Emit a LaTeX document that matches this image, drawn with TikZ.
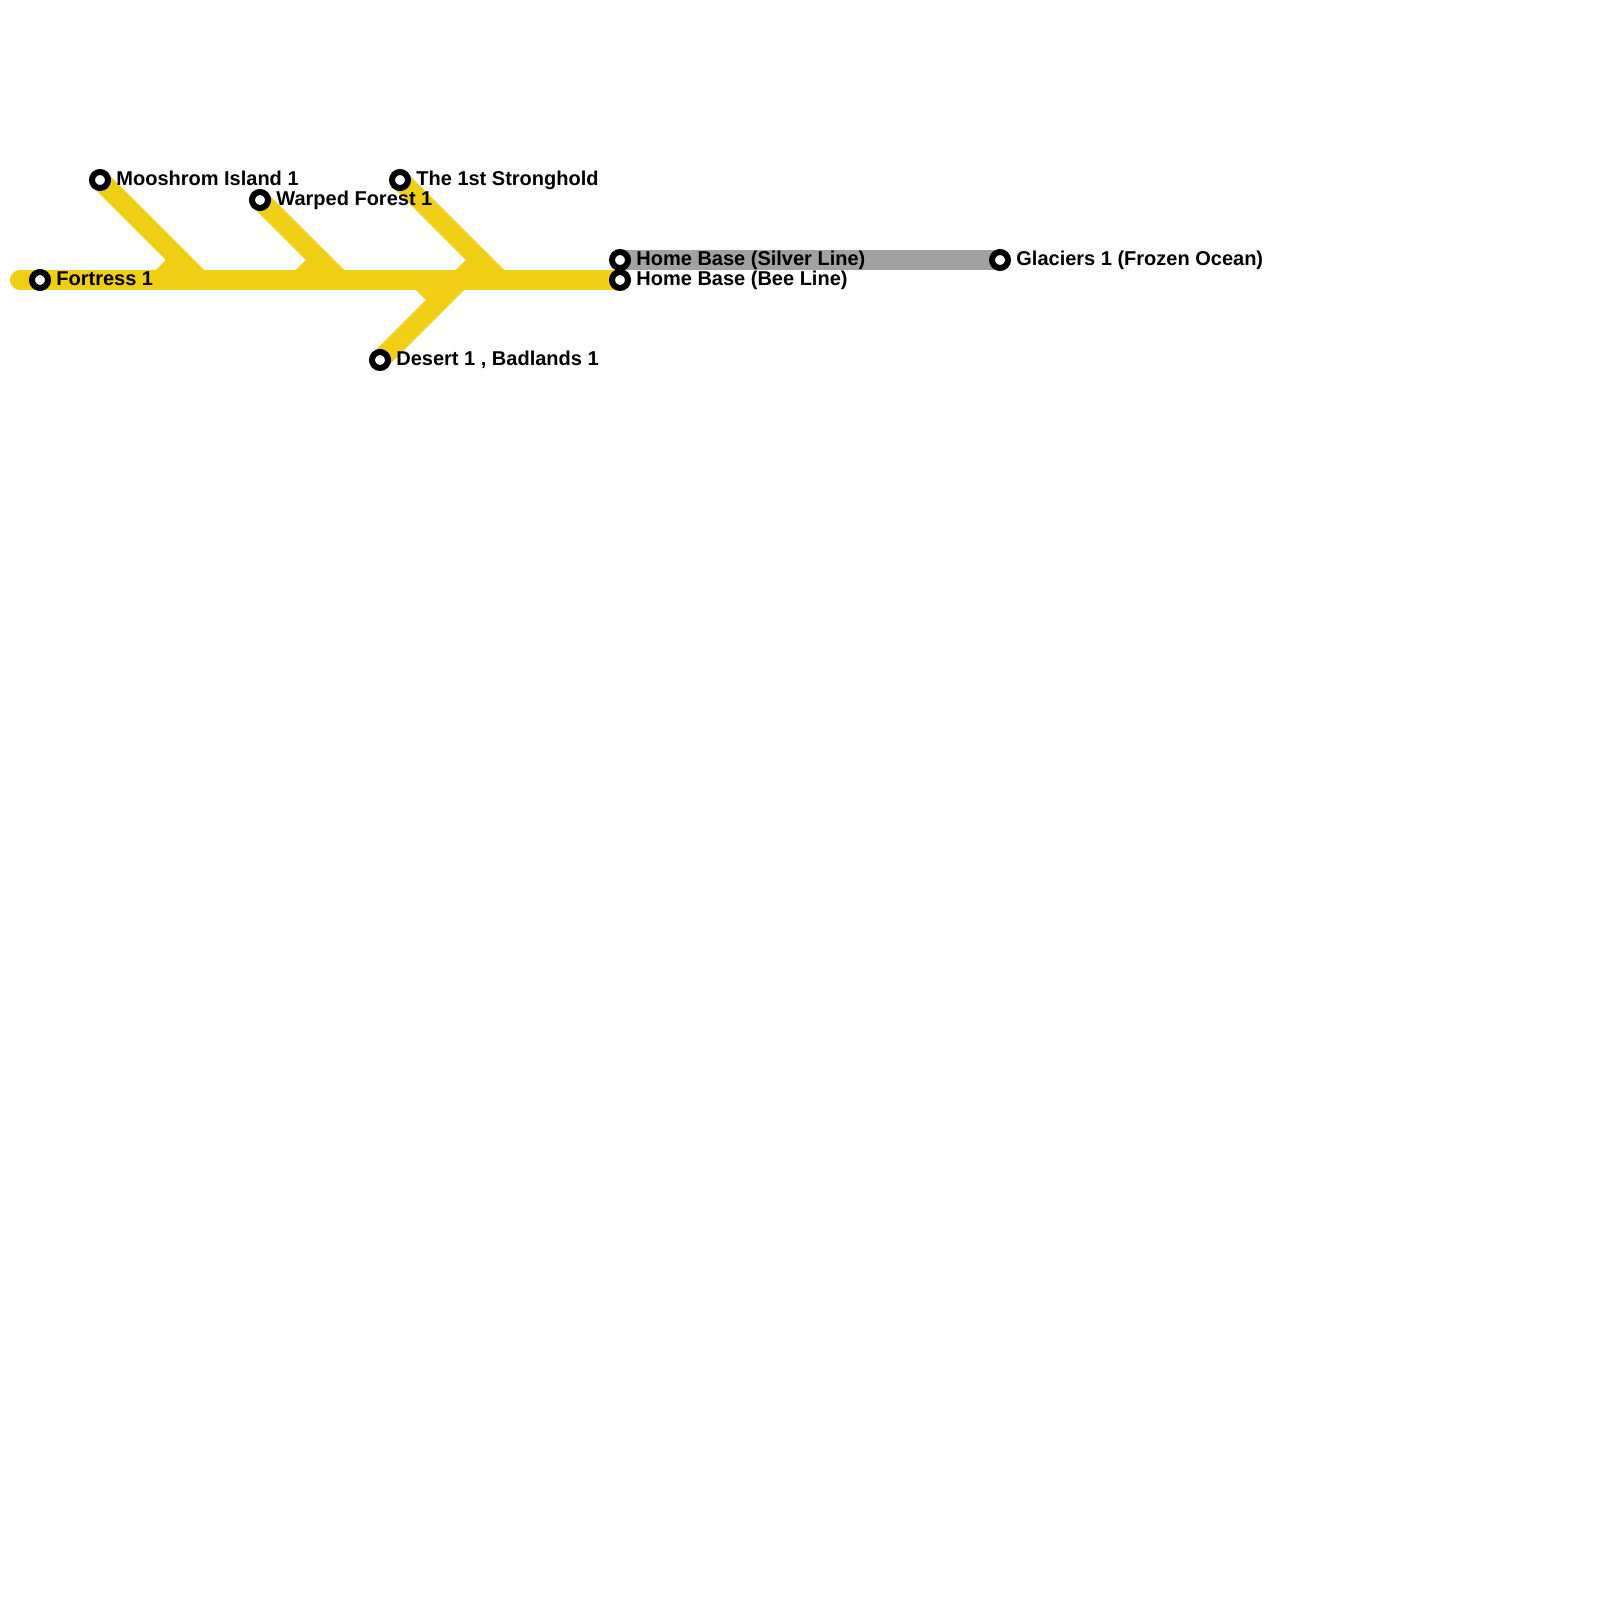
\documentclass[tikz,border=0pt]{standalone}
\usepackage{fontspec}
\setmainfont{Liberation Sans}
\usetikzlibrary{positioning, backgrounds}

\definecolor{beeline}{HTML}{F0CE15}
\definecolor{silverline}{HTML}{A2A2A2}

\begin{document}
\begin{tikzpicture}
	[x=1pt, y=-1pt, on grid,
	 station/.style={circle, draw=black, fill=white, line width=3pt, minimum size=8pt, inner sep=0pt},
	 lbl/.style={inner sep=0pt, text height=7.2pt, text depth=0pt, yshift=1pt, font=\bfseries\fontsize{10}{12}\selectfont},
	 bee/.style={draw=beeline, line width=10pt, line cap=round},
	 silver/.style={draw=silverline, line width=10pt, line cap=round}]
   \useasboundingbox (0,0) rectangle (800,800);
   % stations
   \node[station] (s_fort) at (20,140) {};
   \node[station] (s_moo)    [above right=50pt and 30pt of s_fort] {};
   \node[station] (s_warp)   [below right=10pt and 80pt of s_moo] {};
   \node[station] (s_hold)   [right=150pt of s_moo] {};
   \node[station] (s_desert) [below left=90pt and 10pt of s_hold] {};
   \node[station] (s_bee)    [right=290pt of s_fort] {};
   \node[station] (s_silver) [above=10pt of s_bee] {};
   \node[station] (s_glac)   [right=190pt of s_silver] {};
   % labels
   \node[lbl, right=8pt of s_fort.center, anchor=west]   (l_fort)   {Fortress 1};
   \node[lbl, right=8pt of s_moo.center, anchor=west]    (l_moo)    {Mooshrom Island 1};
   \node[lbl, right=8pt of s_warp.center, anchor=west]   (l_warp)   {Warped Forest 1};
   \node[lbl, right=8pt of s_hold.center, anchor=west]   (l_hold)   {The 1st Stronghold};
   \node[lbl, right=8pt of s_desert.center, anchor=west] (l_desert) {Desert 1 , Badlands 1};
   \node[lbl, right=8pt of s_silver.center, anchor=west] (l_silver) {Home Base (Silver Line)};
   \node[lbl, right=8pt of s_bee.center, anchor=west]    (l_bee)    {Home Base (Bee Line)};
   \node[lbl, right=8pt of s_glac.center, anchor=west]   (l_glac)   {Glaciers 1 (Frozen Ocean)};
   % bends where the branches meet the trunk
   \coordinate (c_west) at (10,140);
   \coordinate (c_moo)  at (100,140);
   \coordinate (t_moo)  at (90,130);
   \coordinate (u_moo)  at (80,140);
   \coordinate (c_warp) at (170,140);
   \coordinate (t_warp) at (160,130);
   \coordinate (u_warp) at (150,140);
   \coordinate (c_hold) at (250,140);
   \coordinate (t_hold) at (240,130);
   \coordinate (u_hold) at (230,140);
   \coordinate (t_desert) at (220,150);
   \coordinate (u_desert) at (210,140);
   \begin{pgfonlayer}{background}
    \draw[bee] (c_west) -- (s_bee.center);
    \draw[bee] (s_moo.center) -- (c_moo);
    \draw[bee] (t_moo) -- (u_moo);
    \draw[bee] (s_warp.center) -- (c_warp);
    \draw[bee] (t_warp) -- (u_warp);
    \draw[bee] (s_hold.center) -- (c_hold);
    \draw[bee] (t_hold) -- (u_hold);
    \draw[bee] (s_desert.center) -- (u_hold);
    \draw[bee] (t_desert) -- (u_desert);
    \draw[silver] (s_silver.center) -- (s_glac.center);
   \end{pgfonlayer}
\end{tikzpicture}
\end{document}
